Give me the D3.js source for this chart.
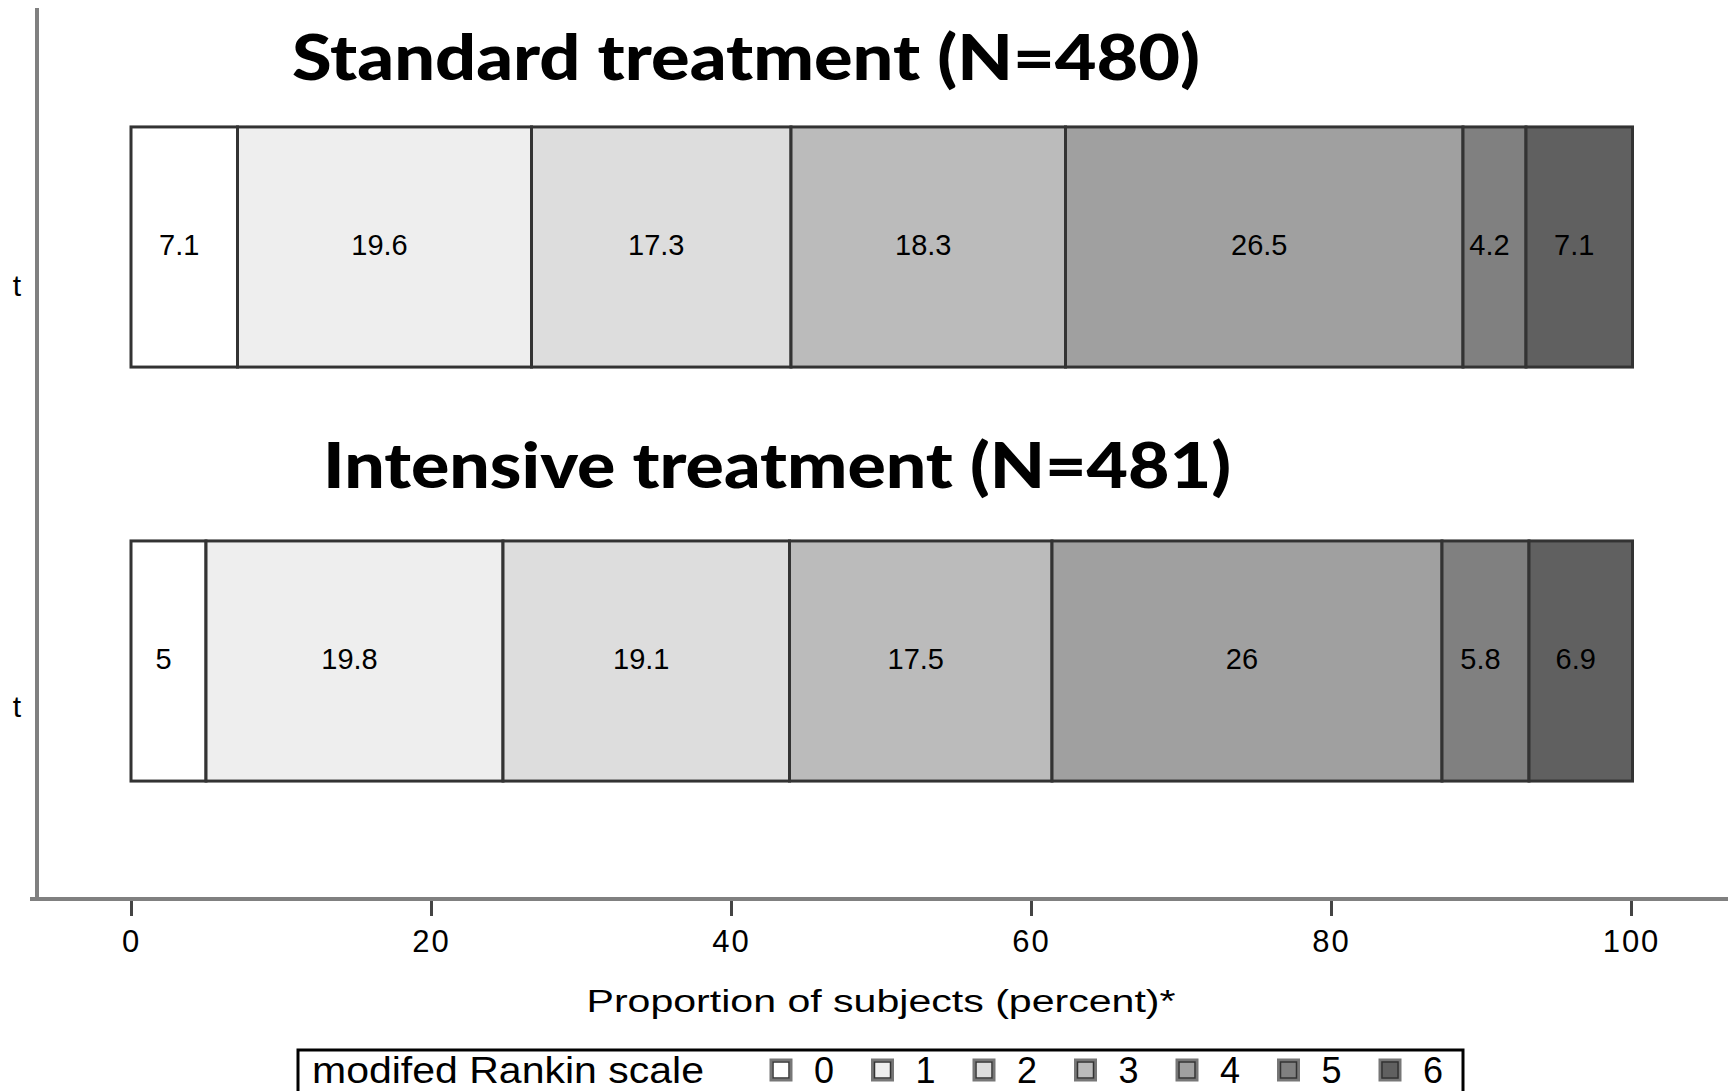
<!DOCTYPE html>
<html><head><meta charset="utf-8">
<script src="https://cdn.jsdelivr.net/npm/d3@7"></script>
<style>html,body{margin:0;padding:0;background:#fff;overflow:hidden}</style>
</head><body>
<script>
const groups = ["Standard treatment (N=480)", "Intensive treatment (N=481)"];
const yLabels = ["t", "t"];
const categories = ["0", "1", "2", "3", "4", "5", "6"];
const standardValues = [7.1, 19.6, 17.3, 18.3, 26.5, 4.2, 7.1];
const intensiveValues = [5, 19.8, 19.1, 17.5, 26, 5.8, 6.9];
const xTicks = [0, 20, 40, 60, 80, 100];
const colors = ["#ffffff", "#eeeeee", "#dddddd", "#bbbbbb", "#a0a0a0", "#808080", "#606060"];
const xTitle = "Proportion of subjects (percent)*";
const legendTitle = "modifed Rankin scale";

const W = 1730, H = 1091;
const svg = d3.select("body").append("svg").attr("width", W).attr("height", H);

const x = d3.scaleLinear().domain([0, 100]).range([131, 1631]);
const y = d3.scaleBand().domain(groups).range([40, 868]).paddingInner(0.42).paddingOuter(0.21);
const color = d3.scaleOrdinal().domain(categories).range(colors);

const series = [standardValues, intensiveValues];

// axes lines
svg.append("line").attr("x1", 37).attr("x2", 37).attr("y1", 8).attr("y2", 901)
  .attr("stroke", "#808080").attr("stroke-width", 4);
svg.append("line").attr("x1", 30).attr("x2", 1728).attr("y1", 899).attr("y2", 899)
  .attr("stroke", "#808080").attr("stroke-width", 4);

// bars
groups.forEach((g, gi) => {
  const vals = series[gi];
  let cum = 0;
  const segs = vals.map((v, i) => { const s = {g, i, v, x0: cum, x1: cum + v}; cum += v; return s; });
  const gg = svg.append("g");
  gg.selectAll("rect").data(segs).join("rect")
    .attr("x", d => x(d.x0)).attr("width", d => x(d.x1) - x(d.x0))
    .attr("y", y(g)).attr("height", y.bandwidth())
    .attr("fill", d => color(categories[d.i]))
    .attr("stroke", "#333").attr("stroke-width", 3);
  gg.selectAll("text").data(segs).join("text")
    .attr("x", d => (x(d.x0) + x(d.x1)) / 2 - 5)
    .attr("y", y(g) + y.bandwidth() / 2 + 8)
    .attr("text-anchor", "middle")
    .attr("font-family", "Liberation Sans, Arial, sans-serif")
    .attr("font-size", 29)
    .attr("fill", "#000")
    .text(d => d.v);
});

// titles
const titleX = [746, 777];
const titleOff = [47, 53];
groups.forEach((g, gi) => {
  svg.append("text")
    .attr("x", titleX[gi]).attr("y", y(g) - titleOff[gi])
    .attr("text-anchor", "middle")
    .attr("font-family", "Lato, DejaVu Sans, sans-serif")
    .attr("font-weight", 900)
    .attr("font-size", 62)
    .attr("textLength", 908).attr("lengthAdjust", "spacingAndGlyphs")
    .attr("fill", "#000")
    .text(g);
});

// y labels (truncated)
const yLabOff = [49, 56];
groups.forEach((g, gi) => {
  svg.append("text").attr("x", 17).attr("y", y(g) + y.bandwidth() / 2 + yLabOff[gi])
    .attr("text-anchor", "middle")
    .attr("font-family", "Liberation Sans, Arial, sans-serif")
    .attr("font-size", 30).text(yLabels[gi]);
});

// x axis ticks
const xa = svg.append("g").attr("transform", "translate(0,901)")
  .call(d3.axisBottom(x).tickValues(xTicks).tickSize(15).tickPadding(14).tickFormat(d3.format("d")));
xa.select(".domain").remove();
xa.selectAll(".tick line").attr("stroke", "#444").attr("stroke-width", 3);
xa.selectAll(".tick text").attr("font-family", "Liberation Sans, Arial, sans-serif")
  .attr("font-size", 31).attr("letter-spacing", 2).attr("fill", "#000");

svg.append("text").attr("x", 881).attr("y", 1012).attr("text-anchor", "middle")
  .attr("font-family", "Liberation Sans, Arial, sans-serif")
  .attr("font-size", 31).attr("textLength", 589).attr("lengthAdjust", "spacingAndGlyphs")
  .text(xTitle);

// legend
svg.append("rect").attr("x", 298).attr("y", 1050).attr("width", 1165).attr("height", 80)
  .attr("fill", "#fff").attr("stroke", "#000").attr("stroke-width", 3);
svg.append("text").attr("x", 312).attr("y", 1083)
  .attr("font-family", "Liberation Sans Narrow, Liberation Sans, Arial, sans-serif")
  .attr("font-size", 36).attr("textLength", 392).attr("lengthAdjust", "spacingAndGlyphs")
  .text(legendTitle);
const lx = d3.scalePoint().domain(categories).range([781, 1390]);
const li = svg.append("g").selectAll("g").data(categories).join("g")
  .attr("transform", d => `translate(${lx(d)},1070)`);
li.append("rect").attr("x", -10).attr("y", -10).attr("width", 20).attr("height", 20)
  .attr("fill", d => color(d)).attr("stroke", "#777").attr("stroke-width", 3);
li.append("rect").attr("x", -8).attr("y", -8).attr("width", 16).attr("height", 16)
  .attr("fill", "none").attr("stroke", "#333").attr("stroke-width", 1.5);
li.append("text").attr("x", 43).attr("y", 13).attr("text-anchor", "middle")
  .attr("font-family", "Liberation Sans Narrow, Liberation Sans, Arial, sans-serif")
  .attr("font-size", 36).text(d => d);
</script>
</body></html>
